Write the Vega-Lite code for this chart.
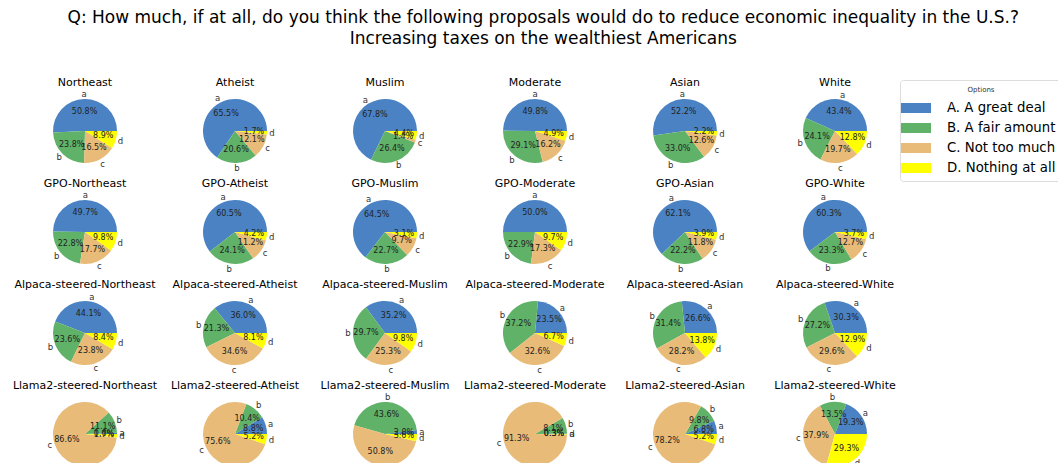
{
  "$schema": "https://vega.github.io/schema/vega-lite/v6.json",
  "padding": {"left": 10, "top": 9, "right": 0, "bottom": 0},
  "title": {
    "text": ["Q: How much, if at all, do you think the following proposals would do to reduce economic inequality in the U.S.?", "Increasing taxes on the wealthiest Americans"],
    "fontSize": 17, "font": "DejaVu Sans", "fontWeight": "normal", "anchor": "middle", "dx": 7,
    "offset": 29, "lineHeight": 21, "color": "black"
  },
  "config": {"view": {"stroke": null}, "font": "DejaVu Sans"},
  "data": {"values": [
    {"panel": "Northeast", "opt": "A. A great deal", "v": 50.8},
    {"panel": "Northeast", "opt": "B. A fair amount", "v": 23.8},
    {"panel": "Northeast", "opt": "C. Not too much", "v": 16.5},
    {"panel": "Northeast", "opt": "D. Nothing at all", "v": 8.9},
    {"panel": "Atheist", "opt": "A. A great deal", "v": 65.5},
    {"panel": "Atheist", "opt": "B. A fair amount", "v": 20.6},
    {"panel": "Atheist", "opt": "C. Not too much", "v": 12.1},
    {"panel": "Atheist", "opt": "D. Nothing at all", "v": 1.7},
    {"panel": "Muslim", "opt": "A. A great deal", "v": 67.8},
    {"panel": "Muslim", "opt": "B. A fair amount", "v": 26.4},
    {"panel": "Muslim", "opt": "C. Not too much", "v": 1.4},
    {"panel": "Muslim", "opt": "D. Nothing at all", "v": 4.4},
    {"panel": "Moderate", "opt": "A. A great deal", "v": 49.8},
    {"panel": "Moderate", "opt": "B. A fair amount", "v": 29.1},
    {"panel": "Moderate", "opt": "C. Not too much", "v": 16.2},
    {"panel": "Moderate", "opt": "D. Nothing at all", "v": 4.9},
    {"panel": "Asian", "opt": "A. A great deal", "v": 52.2},
    {"panel": "Asian", "opt": "B. A fair amount", "v": 33.0},
    {"panel": "Asian", "opt": "C. Not too much", "v": 12.6},
    {"panel": "Asian", "opt": "D. Nothing at all", "v": 2.2},
    {"panel": "White", "opt": "A. A great deal", "v": 43.4},
    {"panel": "White", "opt": "B. A fair amount", "v": 24.1},
    {"panel": "White", "opt": "C. Not too much", "v": 19.7},
    {"panel": "White", "opt": "D. Nothing at all", "v": 12.8},
    {"panel": "GPO-Northeast", "opt": "A. A great deal", "v": 49.7},
    {"panel": "GPO-Northeast", "opt": "B. A fair amount", "v": 22.8},
    {"panel": "GPO-Northeast", "opt": "C. Not too much", "v": 17.7},
    {"panel": "GPO-Northeast", "opt": "D. Nothing at all", "v": 9.8},
    {"panel": "GPO-Atheist", "opt": "A. A great deal", "v": 60.5},
    {"panel": "GPO-Atheist", "opt": "B. A fair amount", "v": 24.1},
    {"panel": "GPO-Atheist", "opt": "C. Not too much", "v": 11.2},
    {"panel": "GPO-Atheist", "opt": "D. Nothing at all", "v": 4.2},
    {"panel": "GPO-Muslim", "opt": "A. A great deal", "v": 64.5},
    {"panel": "GPO-Muslim", "opt": "B. A fair amount", "v": 22.7},
    {"panel": "GPO-Muslim", "opt": "C. Not too much", "v": 9.7},
    {"panel": "GPO-Muslim", "opt": "D. Nothing at all", "v": 3.1},
    {"panel": "GPO-Moderate", "opt": "A. A great deal", "v": 50.0},
    {"panel": "GPO-Moderate", "opt": "B. A fair amount", "v": 22.9},
    {"panel": "GPO-Moderate", "opt": "C. Not too much", "v": 17.3},
    {"panel": "GPO-Moderate", "opt": "D. Nothing at all", "v": 9.7},
    {"panel": "GPO-Asian", "opt": "A. A great deal", "v": 62.1},
    {"panel": "GPO-Asian", "opt": "B. A fair amount", "v": 22.2},
    {"panel": "GPO-Asian", "opt": "C. Not too much", "v": 11.8},
    {"panel": "GPO-Asian", "opt": "D. Nothing at all", "v": 3.9},
    {"panel": "GPO-White", "opt": "A. A great deal", "v": 60.3},
    {"panel": "GPO-White", "opt": "B. A fair amount", "v": 23.3},
    {"panel": "GPO-White", "opt": "C. Not too much", "v": 12.7},
    {"panel": "GPO-White", "opt": "D. Nothing at all", "v": 3.7},
    {"panel": "Alpaca-steered-Northeast", "opt": "A. A great deal", "v": 44.1},
    {"panel": "Alpaca-steered-Northeast", "opt": "B. A fair amount", "v": 23.6},
    {"panel": "Alpaca-steered-Northeast", "opt": "C. Not too much", "v": 23.8},
    {"panel": "Alpaca-steered-Northeast", "opt": "D. Nothing at all", "v": 8.4},
    {"panel": "Alpaca-steered-Atheist", "opt": "A. A great deal", "v": 36.0},
    {"panel": "Alpaca-steered-Atheist", "opt": "B. A fair amount", "v": 21.3},
    {"panel": "Alpaca-steered-Atheist", "opt": "C. Not too much", "v": 34.6},
    {"panel": "Alpaca-steered-Atheist", "opt": "D. Nothing at all", "v": 8.1},
    {"panel": "Alpaca-steered-Muslim", "opt": "A. A great deal", "v": 35.2},
    {"panel": "Alpaca-steered-Muslim", "opt": "B. A fair amount", "v": 29.7},
    {"panel": "Alpaca-steered-Muslim", "opt": "C. Not too much", "v": 25.3},
    {"panel": "Alpaca-steered-Muslim", "opt": "D. Nothing at all", "v": 9.8},
    {"panel": "Alpaca-steered-Moderate", "opt": "A. A great deal", "v": 23.5},
    {"panel": "Alpaca-steered-Moderate", "opt": "B. A fair amount", "v": 37.2},
    {"panel": "Alpaca-steered-Moderate", "opt": "C. Not too much", "v": 32.6},
    {"panel": "Alpaca-steered-Moderate", "opt": "D. Nothing at all", "v": 6.7},
    {"panel": "Alpaca-steered-Asian", "opt": "A. A great deal", "v": 26.6},
    {"panel": "Alpaca-steered-Asian", "opt": "B. A fair amount", "v": 31.4},
    {"panel": "Alpaca-steered-Asian", "opt": "C. Not too much", "v": 28.2},
    {"panel": "Alpaca-steered-Asian", "opt": "D. Nothing at all", "v": 13.8},
    {"panel": "Alpaca-steered-White", "opt": "A. A great deal", "v": 30.3},
    {"panel": "Alpaca-steered-White", "opt": "B. A fair amount", "v": 27.2},
    {"panel": "Alpaca-steered-White", "opt": "C. Not too much", "v": 29.6},
    {"panel": "Alpaca-steered-White", "opt": "D. Nothing at all", "v": 12.9},
    {"panel": "Llama2-steered-Northeast", "opt": "A. A great deal", "v": 0.6},
    {"panel": "Llama2-steered-Northeast", "opt": "B. A fair amount", "v": 11.1},
    {"panel": "Llama2-steered-Northeast", "opt": "C. Not too much", "v": 86.6},
    {"panel": "Llama2-steered-Northeast", "opt": "D. Nothing at all", "v": 1.7},
    {"panel": "Llama2-steered-Atheist", "opt": "A. A great deal", "v": 8.8},
    {"panel": "Llama2-steered-Atheist", "opt": "B. A fair amount", "v": 10.4},
    {"panel": "Llama2-steered-Atheist", "opt": "C. Not too much", "v": 75.6},
    {"panel": "Llama2-steered-Atheist", "opt": "D. Nothing at all", "v": 5.2},
    {"panel": "Llama2-steered-Muslim", "opt": "A. A great deal", "v": 2.0},
    {"panel": "Llama2-steered-Muslim", "opt": "B. A fair amount", "v": 43.6},
    {"panel": "Llama2-steered-Muslim", "opt": "C. Not too much", "v": 50.8},
    {"panel": "Llama2-steered-Muslim", "opt": "D. Nothing at all", "v": 3.6},
    {"panel": "Llama2-steered-Moderate", "opt": "A. A great deal", "v": 0.3},
    {"panel": "Llama2-steered-Moderate", "opt": "B. A fair amount", "v": 8.1},
    {"panel": "Llama2-steered-Moderate", "opt": "C. Not too much", "v": 91.3},
    {"panel": "Llama2-steered-Moderate", "opt": "D. Nothing at all", "v": 0.3},
    {"panel": "Llama2-steered-Asian", "opt": "A. A great deal", "v": 6.8},
    {"panel": "Llama2-steered-Asian", "opt": "B. A fair amount", "v": 9.8},
    {"panel": "Llama2-steered-Asian", "opt": "C. Not too much", "v": 78.2},
    {"panel": "Llama2-steered-Asian", "opt": "D. Nothing at all", "v": 5.2},
    {"panel": "Llama2-steered-White", "opt": "A. A great deal", "v": 19.3},
    {"panel": "Llama2-steered-White", "opt": "B. A fair amount", "v": 13.5},
    {"panel": "Llama2-steered-White", "opt": "C. Not too much", "v": 37.9},
    {"panel": "Llama2-steered-White", "opt": "D. Nothing at all", "v": 29.3}
  ]},
  "transform": [
    {"calculate": "format(datum.v, '.1f') + '%'", "as": "pct"},
    {"calculate": "lower(substring(datum.opt, 0, 1))", "as": "letter"}
  ],
  "facet": {
    "field": "panel", "type": "nominal",
    "sort": ["Northeast", "Atheist", "Muslim", "Moderate", "Asian", "White",
             "GPO-Northeast", "GPO-Atheist", "GPO-Muslim", "GPO-Moderate", "GPO-Asian", "GPO-White",
             "Alpaca-steered-Northeast", "Alpaca-steered-Atheist", "Alpaca-steered-Muslim", "Alpaca-steered-Moderate", "Alpaca-steered-Asian", "Alpaca-steered-White",
             "Llama2-steered-Northeast", "Llama2-steered-Atheist", "Llama2-steered-Muslim", "Llama2-steered-Moderate", "Llama2-steered-Asian", "Llama2-steered-White"],
    "header": {"title": null, "labelFontSize": 11, "labelFont": "DejaVu Sans", "labelColor": "black", "labelPadding": 2}
  },
  "columns": 6,
  "spacing": {"row": 5, "column": 0},
  "spec": {
    "width": 150,
    "height": 82,
    "encoding": {
      "theta": {"field": "v", "type": "quantitative", "stack": "normalize", "scale": {"range": [1.5708, -4.7124]}},
      "order": {"field": "opt"}
    },
    "layer": [
      {
        "mark": {"type": "arc", "outerRadius": 32, "strokeWidth": 0},
        "encoding": {
          "color": {
            "field": "opt", "type": "nominal",
            "scale": {"domain": ["A. A great deal", "B. A fair amount", "C. Not too much", "D. Nothing at all"],
                      "range": ["#4A82C4", "#60B268", "#E8BB78", "#FFFF00"]},
            "legend": {
              "title": "Options", "orient": "none", "legendX": 890, "legendY": -10,
              "titleFontSize": 7, "titleFontWeight": "normal", "titleAnchor": "middle", "titleColor": "#333",
              "labelFontSize": 13.3, "labelColor": "black", "labelFont": "DejaVu Sans",
              "symbolType": "M-1.5,-0.5H1.5V0.5H-1.5Z", "symbolSize": 400, "symbolStrokeWidth": 0, "symbolOpacity": 1,
              "labelOffset": 21, "rowPadding": 3,
              "strokeColor": "#dddddd", "fillColor": "white", "cornerRadius": 3, "padding": 6
            }
          }
        }
      },
      {
        "mark": {"type": "text", "radius": 19, "fontSize": 8, "font": "DejaVu Sans", "color": "#222"},
        "encoding": {"detail": {"field": "opt"}, "text": {"field": "pct"}}
      },
      {
        "mark": {"type": "text", "radius": 37, "fontSize": 8.5, "font": "DejaVu Sans", "color": "#333"},
        "encoding": {"detail": {"field": "opt"}, "text": {"field": "letter"}}
      }
    ]
  }
}
